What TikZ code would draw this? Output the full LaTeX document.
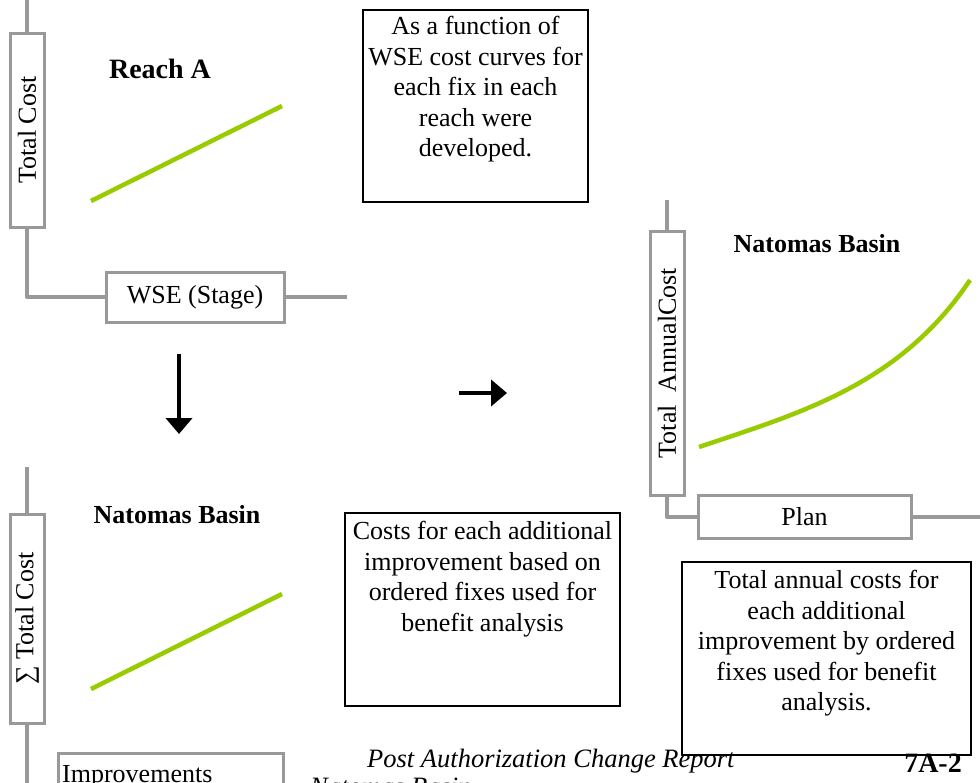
\documentclass[tikz,border=0pt]{standalone}
\usepackage{fontspec}
\setmainfont{Liberation Serif}
\usetikzlibrary{arrows.meta}
\definecolor{axisgray}{HTML}{999999}
\definecolor{curvegreen}{HTML}{99CC00}

\begin{document}
\begin{tikzpicture}[x=1pt, y=-1pt,
        every node/.style={font=\fontsize{26pt}{30.5pt}\selectfont, inner sep=0pt},
        axis/.style={axisgray, line width=4pt, line join=round},
        labelbox/.style={draw=axisgray, line width=3pt, fill=white},
        notebox/.style={draw=black, line width=2pt},
        title/.style={font=\fontsize{26pt}{30.5pt}\selectfont\bfseries, anchor=base},
        curve/.style={curvegreen, line width=4.5pt},
        flow/.style={line width=4pt, -{Triangle[width=26pt, length=16pt]}}]
                \useasboundingbox (0,0) rectangle (980,782);
                \clip (0,0) rectangle (980,782);

                % reach A graph
                \node[labelbox, rotate=90, minimum width=194pt, minimum height=34pt] (costA) at (27,130) {Total Cost};
                \node[labelbox, minimum width=178pt, minimum height=50pt] (wse) at (195,297) {WSE (Stage)};
                \node[title] (reachA) at (160,78) {\fontsize{28pt}{32pt}\selectfont Reach A};
                \coordinate (ytopA) at (27,-5);
                \coordinate (xendA) at (347,297);
                \draw[axis] (ytopA) -- (costA);
                \draw[axis] (costA) |- (wse);
                \draw[axis] (wse) -- (xendA);
                \draw[curve] (91,201) -- (282,106);

                \node[notebox, minimum width=225pt, minimum height=192pt] (wsebox) at (475.5,106) {};
                \node[anchor=north, align=center] (wsenote) at ([yshift=-7pt]wsebox.north)
                    {As a function of\\WSE cost curves for\\each fix in each\\reach were\\developed.};

                % flow arrows
                \coordinate (downtop) at (179,354);
                \coordinate (downtip) at (179,434);
                \coordinate (righttail) at (459,393);
                \coordinate (righttip) at (507,393);
                \draw[flow] (downtop) -- (downtip);
                \draw[flow] (righttail) -- (righttip);

                % basin sum graph
                \node[labelbox, rotate=90, minimum width=209pt, minimum height=34pt] (sumcost) at (27,618.5) {∑~Total Cost};
                \node[title] (basinS) at (177,523) {Natomas Basin};
                \coordinate (ytopS) at (27,467);
                \coordinate (ybotS) at (27,790);
                \draw[axis] (ytopS) -- (sumcost);
                \draw[axis] (sumcost) -- (ybotS);
                \draw[curve] (91,689) -- (282,594);
                \node[labelbox, minimum width=225pt, minimum height=60pt] (improvebox) at (170.5,783) {};
                \node[anchor=base west] (improve) at (62,782) {Improvements};

                \node[notebox, minimum width=275pt, minimum height=193pt] (costbox) at (482.5,609.5) {};
                \node[anchor=north, align=center] (costnote) at ([yshift=-9pt]costbox.north)
                    {Costs for each additional\\improvement based on\\ordered fixes used for\\benefit analysis};

                % annual cost graph
                \node[labelbox, rotate=90, minimum width=264pt, minimum height=34pt] (annual) at (667,363) {Total~~AnnualCost};
                \node[labelbox, minimum width=213pt, minimum height=43pt] (plan) at (804.5,517) {Plan};
                \node[title] (basinN) at (817,252) {Natomas Basin};
                \coordinate (ytopN) at (667,200);
                \coordinate (xendN) at (990,517);
                \draw[axis] (ytopN) -- (annual);
                \draw[axis] (annual) |- (plan);
                \draw[axis] (plan) -- (xendN);
                \draw[curve] (699,447) .. controls (800,413) and (900,385) .. (970,280);

                \node[notebox, minimum width=289pt, minimum height=193pt] (annualbox) at (826.5,658.5) {};
                \node[anchor=north, align=center] (annualnote) at ([yshift=-9pt]annualbox.north)
                    {Total annual costs for\\each additional\\improvement by ordered\\fixes used for benefit\\analysis.};

                % page footer
                \node[anchor=base west, font=\fontsize{26.5pt}{30.5pt}\selectfont\itshape] (report) at (367,767) {Post Authorization Change Report};
                \node[anchor=base west, font=\fontsize{26.5pt}{30.5pt}\selectfont\itshape] (footbasin) at (310,795) {Natomas Basin};
                \node[anchor=base east, font=\fontsize{28pt}{32pt}\selectfont\bfseries] (page) at (962,772) {7A-2};

            \end{tikzpicture}
\end{document}
